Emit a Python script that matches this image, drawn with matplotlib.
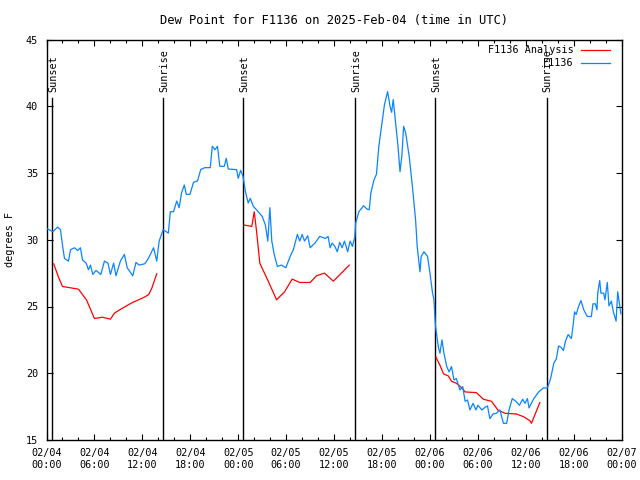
import matplotlib
matplotlib.use("Agg")
import matplotlib.pyplot as plt

plt.rcParams["font.family"] = ["DejaVu Sans Mono"]
plt.rcParams["font.size"] = 7.3

# hours since 2025-02-04 00:00 UTC
obs_hours = [
    0.0, 0.17, 0.8, 1.4, 1.75, 2.0, 2.25, 2.75, 3.0, 3.5, 3.9, 4.25, 4.5, 4.96,
    5.25, 5.5, 5.8, 6.2, 6.8, 7.25, 7.7, 8.0, 8.4, 8.7, 9.25, 9.75, 10.1, 10.8,
    11.2, 11.6, 12.3, 12.75, 13.4, 13.8, 14.1, 14.6, 15.25, 15.5, 15.9, 16.3,
    16.6, 16.9, 17.25, 17.5, 17.96, 18.4, 18.9, 19.3, 19.8, 20.5, 20.75, 21.1,
    21.4, 21.7, 22.25, 22.5, 22.75, 23.8, 24.0, 24.3, 24.6, 24.9, 25.25, 25.5,
    25.9, 26.5, 27.0, 27.4, 27.7, 27.96, 28.2, 28.5, 28.9, 29.4, 29.96, 30.5,
    30.9, 31.4, 31.7, 32.0, 32.3, 32.7, 33.0, 33.6, 34.2, 34.9, 35.25, 35.5,
    35.75, 36.1, 36.4, 36.7, 37.0, 37.3, 37.7, 38.0, 38.3, 38.6, 38.7, 39.1,
    39.7, 40.1, 40.4, 40.6, 41.0, 41.3, 41.6, 42.0, 42.3, 42.7, 43.0, 43.2,
    43.4, 43.7, 44.0, 44.25, 44.5, 44.7, 44.96, 45.4, 45.8, 46.2, 46.4, 46.75,
    46.9, 47.25, 47.7, 48.0, 48.3, 48.5, 48.6, 48.7, 49.04, 49.25, 49.5, 49.75,
    50.1, 50.4, 50.7, 51.0, 51.3, 51.75, 52.1, 52.4, 52.7, 53.0, 53.4, 53.75,
    54.0, 54.5, 54.9, 55.2, 55.5, 55.9, 56.3, 56.75, 57.2, 57.6, 57.9, 58.3,
    58.75, 59.2, 59.6, 59.9, 60.2, 60.4, 61.0, 61.6, 62.2, 62.7, 63.1, 63.5,
    63.8, 64.1, 64.4, 64.7, 64.96, 65.3, 65.7, 65.9, 66.1, 66.3, 66.6, 66.9,
    67.25, 67.7, 68.2, 68.4, 68.7, 68.9, 69.0, 69.25, 69.4, 69.75, 69.9, 70.2,
    70.4, 70.7, 70.96, 71.3, 71.5, 71.75, 71.9,
]
obs_dewpt = [
    30.8, 30.8, 30.6, 30.95, 30.75, 29.6, 28.6, 28.4, 29.25, 29.4, 29.2, 29.4,
    28.5, 28.25, 27.75, 28.1, 27.4, 27.7, 27.4, 28.4, 28.25, 27.4, 28.25, 27.3,
    28.4, 28.9, 27.9, 27.3, 28.3, 28.1, 28.2, 28.6, 29.4, 28.4, 29.9, 30.75,
    30.5, 32.1, 32.1, 32.9, 32.4, 33.5, 34.1, 33.4, 33.4, 34.3, 34.4, 35.25,
    35.4, 35.4, 37.0, 36.75, 37.0, 35.5, 35.5, 36.1, 35.3, 35.25, 34.6, 35.2,
    34.75, 33.6, 32.75, 33.1, 32.5, 32.1, 31.75, 31.1, 29.9, 32.4, 29.9, 28.9,
    28.0, 28.1, 27.9, 28.75, 29.25, 30.4, 29.9, 30.4, 29.9, 30.3, 29.4, 29.75,
    30.25, 30.1, 30.25, 29.4, 29.75, 29.5, 29.1, 29.8, 29.4, 29.9, 29.1, 29.9,
    29.5, 30.25, 31.25, 32.1, 32.55, 32.3, 32.25, 33.5, 34.5, 34.9, 37.0, 38.75,
    40.1, 41.1, 40.0, 39.55, 40.5, 38.75, 37.0, 35.1, 36.4, 38.5, 38.0, 36.25,
    34.0, 31.5, 29.5, 27.6, 28.75, 29.1, 28.75, 27.5, 26.1, 25.5, 24.4, 23.5,
    22.0, 21.5, 22.5, 21.5, 20.5, 20.1, 20.5, 19.5, 19.6, 18.75, 19.0, 17.9,
    18.0, 17.25, 17.75, 17.25, 17.6, 17.25, 17.45, 17.55, 16.6, 16.95, 17.0,
    17.25, 16.25, 16.25, 17.25, 18.1, 17.9, 17.6, 18.05, 17.75, 18.1, 17.4,
    18.1, 18.6, 18.9, 18.9, 19.6, 20.75, 21.05, 22.05, 21.95, 21.7, 22.4, 22.9,
    22.6, 23.5, 24.6, 24.4, 25.0, 25.45, 24.75, 24.25, 24.25, 25.2, 25.2,
    24.75, 26.0, 26.95, 26.0, 26.0, 25.5, 26.8, 25.05, 25.4, 24.6, 23.9, 26.1,
    25.1, 24.45,
]

# analysis segments (one per night)
ana_hours = [
    [0.9, 1.5, 2.0, 3.0, 4.0, 5.0, 6.0, 7.0, 8.0, 8.5, 9.3, 10.6, 12.25,
     12.8, 13.2, 13.8],
    [24.75, 25.7, 26.0, 26.3, 26.7, 27.75, 28.8, 29.8, 30.75, 31.7, 33.0,
     33.8, 34.8, 35.9, 36.5, 37.9],
    [48.75, 49.25, 49.7, 50.3, 50.7, 51.3, 52.0, 52.4, 53.8, 54.7, 55.7,
     56.5, 57.4, 58.8, 59.7, 60.5, 60.7, 61.75],
]
ana_dewpt = [
    [28.2, 27.2, 26.5, 26.4, 26.3, 25.5, 24.1, 24.2, 24.05, 24.5, 24.8, 25.25,
     25.7, 25.9, 26.4, 27.45],
    [31.1, 31.0, 32.1, 30.6, 28.25, 26.9, 25.5, 26.1, 27.05, 26.8, 26.8,
     27.3, 27.5, 26.9, 27.25, 28.1],
    [21.2, 20.6, 19.95, 19.8, 19.4, 19.25, 18.9, 18.6, 18.55, 18.05, 17.9,
     17.25, 17.0, 16.95, 16.75, 16.45, 16.25, 17.8],
]

sun_hours = [0.75, 14.63, 24.65, 38.65, 48.67, 62.6]
sun_labels = ["Sunset", "Sunrise", "Sunset", "Sunrise", "Sunset", "Sunrise"]

tick_hours = [0, 6, 12, 18, 24, 30, 36, 42, 48, 54, 60, 66, 72]
tick_labels = [
    "02/04\n00:00", "02/04\n06:00", "02/04\n12:00", "02/04\n18:00",
    "02/05\n00:00", "02/05\n06:00", "02/05\n12:00", "02/05\n18:00",
    "02/06\n00:00", "02/06\n06:00", "02/06\n12:00", "02/06\n18:00",
    "02/07\n00:00",
]

red = "#ff0000"
blue = "#0a84ff"

fig = plt.figure(figsize=(6.4, 4.8), dpi=100)
ax = fig.add_axes([46.5 / 640, 40 / 480, 575.2 / 640, 400.5 / 480])

for hx, vy in zip(ana_hours, ana_dewpt):
    ax.plot(hx, vy, color=red, lw=0.9, zorder=3)
ax.plot(obs_hours, obs_dewpt, color=blue, lw=0.9, zorder=3)

for h, lab in zip(sun_hours, sun_labels):
    ax.plot([h, h], [15, 40.6], color="black", lw=1.0, zorder=2)
    ax.text(h + 0.1, 41.1, lab, rotation=90, ha="center", va="bottom", zorder=4)

ax.set_xlim(0, 72)
ax.set_ylim(15, 45)
ax.set_xticks(tick_hours)
ax.set_xticklabels(tick_labels, linespacing=1.25)
ax.set_xticks(range(0, 73, 2), minor=True)
ax.set_yticks(range(15, 46, 5))
ax.tick_params(which="both", direction="in", top=True, right=True, width=0.8)
ax.tick_params(which="major", length=4, pad=6)
ax.tick_params(which="minor", length=2.5)
ax.tick_params(axis="y", which="minor", left=False, right=False)
for sp in ax.spines.values():
    sp.set_linewidth(1.0)

ax.set_ylabel("degrees F", va="center")
ax.yaxis.set_label_coords(-0.064, 0.5)
ax.set_title("Dew Point for F1136 on 2025-Feb-04 (time in UTC)", pad=11)

# legend, right aligned text like gnuplot's key
ax.text(0.917, 0.974, "F1136 Analysis", ha="right", va="center", transform=ax.transAxes)
ax.plot([0.929, 0.980], [0.974, 0.974], color=red, lw=0.9, transform=ax.transAxes)
ax.text(0.917, 0.941, "F1136", ha="right", va="center", transform=ax.transAxes)
ax.plot([0.929, 0.980], [0.941, 0.941], color=blue, lw=0.9, transform=ax.transAxes)

fig.savefig("out.png", dpi=100)
